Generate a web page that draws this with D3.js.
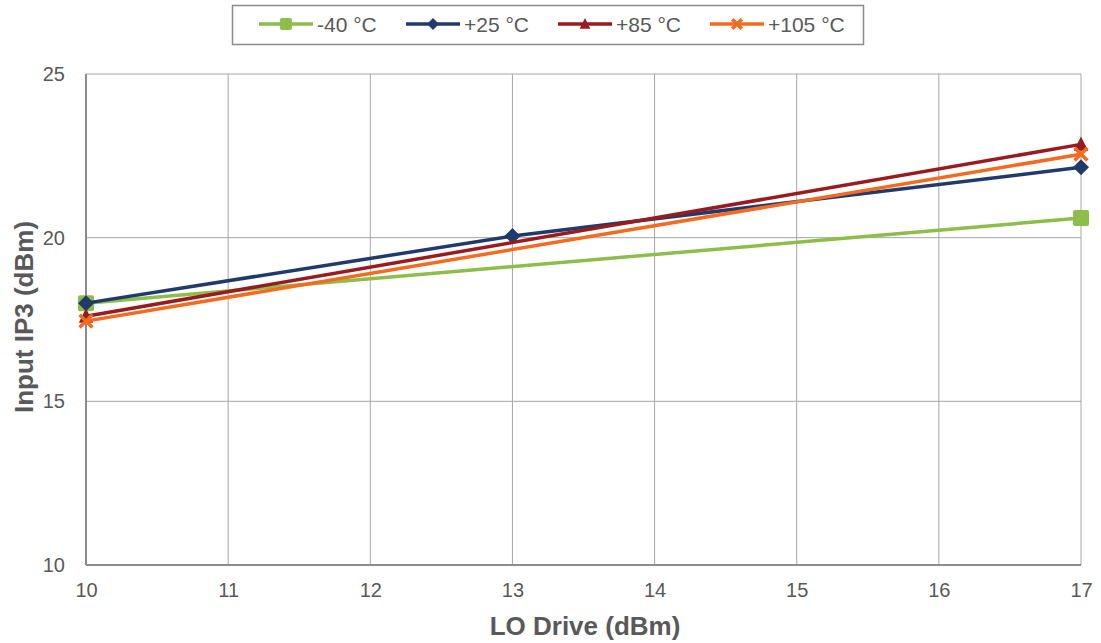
<!DOCTYPE html>
<html><head><meta charset="utf-8">
<script src="https://cdn.jsdelivr.net/npm/d3@7"></script>
<style>body{margin:0;background:#fff;}svg{display:block;font-family:"Liberation Sans",Arial,sans-serif;}</style>
</head><body><svg id="c" width="1101" height="643"></svg>
<script>
const xTicks = [10, 11, 12, 13, 14, 15, 16, 17];
const yTicks = [10, 15, 20, 25];
const seriesNames = ["-40 °C", "+25 °C", "+85 °C", "+105 °C"];
const seriesColors = ["#8DBD4A", "#1F3A6B", "#9A1B1F", "#F26B21"];
const seriesMarkers = ["square", "diamond", "triangle", "cross"];
const xM40 = [10, 17];      const yM40 = [18.0, 20.6];
const x25 = [10, 13, 17];   const y25 = [18.0, 20.05, 22.15];
const x85 = [10, 17];       const y85 = [17.6, 22.85];
const x105 = [10, 17];      const y105 = [17.45, 22.55];
const seriesX = [xM40, x25, x85, x105];
const seriesY = [yM40, y25, y85, y105];

const svg = d3.select("#c");
const L = 86, R = 1081, T = 74, B = 565;
const x = d3.scaleLinear().domain([10, 17]).range([L, R]);
const y = d3.scaleLinear().domain([10, 25]).range([B, T]);
const txt = "#595959";

// gridlines
const g = svg.append("g");
g.selectAll(".vg").data(xTicks).join("line").attr("x1", d => x(d)).attr("x2", d => x(d))
  .attr("y1", T).attr("y2", B).attr("stroke", "#a6a6a6").attr("stroke-width", 1);
g.selectAll(".hg").data(yTicks).join("line").attr("x1", L).attr("x2", R)
  .attr("y1", d => y(d)).attr("y2", d => y(d)).attr("stroke", "#a6a6a6").attr("stroke-width", 1);
svg.append("line").attr("x1", L).attr("x2", L).attr("y1", T).attr("y2", B).attr("stroke", "#8c8c8c").attr("stroke-width", 2);
svg.append("line").attr("x1", L).attr("x2", R).attr("y1", B).attr("y2", B).attr("stroke", "#8c8c8c").attr("stroke-width", 2);

// axes via d3
const xa = svg.append("g").attr("transform", `translate(0,${B})`)
  .call(d3.axisBottom(x).tickValues(xTicks).tickSize(0).tickPadding(18).tickFormat(d3.format("d")));
xa.select(".domain").remove();
xa.selectAll("text").attr("font-size", 20).attr("fill", txt).attr("font-family", "Liberation Sans, Arial, sans-serif");
const ya = svg.append("g").attr("transform", `translate(${L},0)`)
  .call(d3.axisLeft(y).tickValues(yTicks).tickSize(0).tickPadding(21).tickFormat(d3.format("d")));
ya.select(".domain").remove();
ya.selectAll("text").attr("font-size", 20).attr("fill", txt).attr("font-family", "Liberation Sans, Arial, sans-serif");

// titles
svg.append("text").attr("x", 585).attr("y", 635).attr("text-anchor", "middle")
  .attr("font-size", 26).attr("font-weight", "bold").attr("fill", txt).text("LO Drive (dBm)");
svg.append("text").attr("transform", `translate(33,317) rotate(-90)`).attr("text-anchor", "middle")
  .attr("font-size", 26).attr("font-weight", "bold").attr("fill", txt).text("Input IP3 (dBm)");

function marker(sel, type, color, size) {
  if (type === "square") {
    sel.append("rect").attr("x", -size).attr("y", -size).attr("width", 2 * size).attr("height", 2 * size)
      .attr("rx", 2).attr("fill", color);
  } else if (type === "diamond") {
    sel.append("path").attr("d", `M0,${-size}L${size},0L0,${size}L${-size},0Z`).attr("fill", color);
  } else if (type === "triangle") {
    sel.append("path").attr("d", `M0,${-size}L${size * 0.9},${size * 0.8}L${-size * 0.9},${size * 0.8}Z`).attr("fill", color);
  } else {
    const s = size * 0.8;
    sel.append("path").attr("d", `M${-s},${-s}L${s},${s}M${s},${-s}L${-s},${s}`)
      .attr("stroke", color).attr("stroke-width", 3.5).attr("fill", "none");
  }
}

const line = d3.line().x(d => x(d[0])).y(d => y(d[1]));
seriesNames.forEach((name, i) => {
  const pts = seriesX[i].map((v, j) => [v, seriesY[i][j]]);
  svg.append("path").datum(pts).attr("d", line).attr("fill", "none")
    .attr("stroke", seriesColors[i]).attr("stroke-width", 3.5);
  pts.forEach(p => {
    const m = svg.append("g").attr("transform", `translate(${x(p[0])},${y(p[1])})`);
    marker(m, seriesMarkers[i], seriesColors[i], 8);
  });
});

// legend
svg.append("rect").attr("x", 232.5).attr("y", 5.5).attr("width", 631).attr("height", 39)
  .attr("fill", "#fff").attr("stroke", "#8c8c8c").attr("stroke-width", 1.5);
const legX = [259, 406, 558, 710];
seriesNames.forEach((name, i) => {
  const lg = svg.append("g").attr("transform", `translate(${legX[i]},24)`);
  lg.append("line").attr("x1", 0).attr("x2", 54).attr("stroke", seriesColors[i]).attr("stroke-width", 3.5);
  const m = lg.append("g").attr("transform", "translate(27,0)");
  marker(m, seriesMarkers[i], seriesColors[i], 6);
  lg.append("text").attr("x", 58).attr("y", 8).attr("font-size", 21).attr("fill", txt).text(name);
});
</script></body></html>
